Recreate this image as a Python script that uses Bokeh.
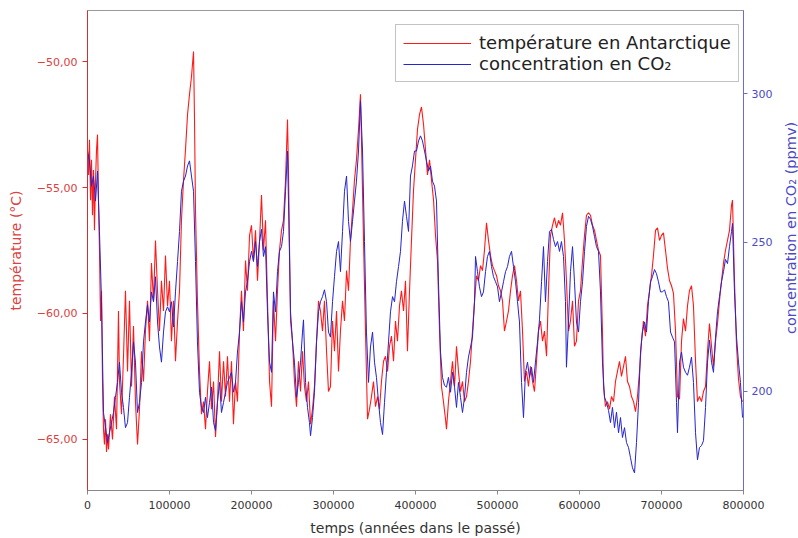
import math
from bokeh.plotting import figure
from bokeh.layouts import row
from bokeh.models import Range1d, LinearAxis, FixedTicker, Legend, LegendItem
from bokeh.core.properties import value
from bokeh.embed import file_html
from bokeh.resources import INLINE

# ---- data ----
# temperature in Antarctica (age in thousands of years, °C)
temp_age_ka = [
    0, 1.2, 2.4, 3.7, 4.9, 6.1, 7.3, 8.5, 9.8, 11, 12.2, 13.4, 14.6, 15.9, 17.1, 18.3, 19.5, 20.7, 22, 23.2, 24.4, 25.6,
    28, 30.5, 32.9, 35.4, 37.8, 39, 41.5, 43.9, 46.3, 48.8, 51.2, 53.7, 56.1, 58.5, 61, 63.4, 65.9, 68.3, 70.7, 73.2,
    75.6, 78, 80.5, 82.9, 85.4, 87.8, 90.2, 92.7, 95.1, 97.6, 100,
    102.4, 104.9, 107.3, 109.8, 112.2, 114.6, 117.1, 119.5, 122, 124.4, 126.8, 129.3, 130.5, 131.7, 134.1, 136.6, 139,
    141.5, 143.9, 146.3, 148.8, 151.2, 153.7, 156.1, 158.5, 161, 163.4, 165.9, 168.3, 170.7, 173.2, 175.6, 178, 180.5,
    182.9, 185.4, 187.8, 190.2, 192.7, 195.1, 197.6, 200,
    202.4, 204.9, 207.3, 209.8, 212.2, 214.6, 217.1, 219.5, 222, 224.4, 226.8, 229.3, 231.7, 234.1, 236.6, 239, 241.5,
    243.9, 245.1, 247.6, 250, 252.4, 254.9, 257.3, 259.8, 262.2, 264.6, 267.1, 269.5, 272, 274.4, 276.8, 279.3, 281.7,
    284.1, 286.6, 289, 291.5, 293.9, 296.3, 298.8, 301.2,
    303.7, 306.1, 308.5, 311, 313.4, 315.9, 318.3, 320.7, 323.2, 325.6, 328, 330.5, 332.9, 334.1, 336.6, 339, 341.5,
    343.9, 346.3, 348.8, 351.2, 353.7, 356.1, 358.5, 361, 363.4, 365.9, 368.3, 370.7, 373.2, 375.6, 378, 380.5, 382.9,
    385.4, 387.8, 390.2, 392.7, 395.1, 397.6, 400,
    402.4, 404.9, 407.3, 409.8, 412.2, 414.6, 417.1, 419.5, 422, 424.4, 426.8, 429.3, 431.7, 434.1, 436.6, 437.8, 440.2,
    442.7, 445.1, 447.6, 450, 452.4, 454.9, 457.3, 459.8, 462.2, 464.6, 467.1, 469.5, 472, 474.4, 476.8, 479.3, 481.7,
    484.1, 486.6, 489, 491.5, 493.9, 496.3, 498.8,
    501.2, 503.7, 506.1, 508.5, 511, 513.4, 515.9, 518.3, 520.7, 523.2, 525.6, 528, 530.5, 532.9, 535.4, 537.8, 540.2,
    542.7, 545.1, 547.6, 550, 552.4, 554.9, 557.3, 559.8, 562.2, 564.6, 567.1, 569.5, 572, 574.4, 576.8, 579.3, 581.7,
    584.1, 586.6, 589, 591.5, 593.9, 596.3, 598.8,
    601.2, 603.7, 606.1, 608.5, 611, 613.4, 615.9, 618.3, 620.7, 623.2, 625.6, 628, 629.3, 631.7, 634.1, 636.6, 639,
    641.5, 643.9, 646.3, 648.8, 651.2, 653.7, 656.1, 658.5, 661, 663.4, 665.9, 668.3, 670.7, 673.2, 675.6, 678, 680.5,
    682.9, 685.4, 687.8, 690.2, 692.7, 695.1, 697.6, 700,
    702.4, 704.9, 707.3, 709.8, 712.2, 714.6, 717.1, 719.5, 722, 724.4, 726.8, 729.3, 731.7, 734.1, 736.6, 739, 741.5,
    743.9, 746.3, 748.8, 751.2, 753.7, 756.1, 758.5, 761, 763.4, 765.9, 768.3, 770.7, 773.2, 775.6, 778, 780.5, 782.9,
    785.4, 786.6, 789, 791.5, 793.9, 796.3, 798.8,
]
temp_c = [
    -53.5, -54.5, -53.1, -55.5, -53.9, -56.1, -54.3, -56.7, -54.7, -53.5, -52.9, -55.5, -57.5, -60.3, -59.1, -62.7, -64.6, -65.2, -64.2, -65.5, -64.8, -65.4,
    -64.0, -65.0, -63.3, -64.6, -59.9, -62.7, -64.0, -61.7, -59.1, -62.3, -59.5, -62.9, -60.5, -63.5, -65.2, -63.8, -61.5, -62.7, -60.7, -59.5,
    -61.1, -58.0, -59.5, -57.1, -59.1, -60.7, -58.7, -59.9, -57.7, -59.7, -58.7,
    -61.1, -59.5, -61.9, -60.3, -59.1, -56.3, -54.7, -53.5, -52.1, -51.3, -50.6, -49.6, -52.3, -55.9, -59.5, -62.3, -64.0,
    -63.5, -64.6, -63.1, -61.9, -63.8, -62.7, -64.9, -63.5, -61.5, -63.5, -61.9, -63.3, -61.7, -63.5, -61.9, -64.4, -62.7,
    -63.5, -60.7, -59.1, -60.7, -57.9, -59.1, -56.9, -56.5,
    -57.9, -56.7, -58.7, -57.1, -55.3, -57.5, -56.3, -59.5, -62.7, -63.7, -59.5, -61.1, -59.1, -57.5, -56.7, -56.3, -54.7,
    -52.3, -54.3, -60.3, -61.1, -62.7, -63.7, -61.9, -63.1, -61.5, -62.9, -63.5, -62.7, -64.4, -63.8, -62.9, -61.1, -59.5,
    -59.9, -60.7, -59.5, -61.5, -63.1, -62.9, -60.3, -61.5,
    -59.9, -62.3, -60.7, -59.5, -60.3, -58.3, -59.1, -57.1, -55.9, -54.7, -53.9, -52.7, -51.3, -53.1, -57.1, -60.7, -64.2,
    -63.8, -63.3, -62.7, -63.7, -63.3, -63.8, -62.7, -61.9, -61.7, -62.3, -61.3, -60.9, -61.9, -60.3, -61.1, -59.7, -59.1,
    -59.9, -58.7, -61.5, -59.1, -57.1, -55.1, -53.9,
    -52.7, -52.1, -51.8, -52.5, -53.5, -54.5, -53.9, -54.7, -55.5, -56.9, -57.9, -60.7, -62.9, -63.5, -64.2, -64.6, -63.5,
    -62.7, -61.9, -62.9, -61.3, -62.3, -63.1, -62.7, -63.5, -63.3, -62.7, -61.9, -60.7, -59.5, -58.5, -58.7, -58.1, -58.3,
    -57.5, -56.4, -57.1, -57.7, -58.1, -58.3, -58.5,
    -58.9, -59.1, -59.5, -60.7, -60.3, -59.9, -59.1, -58.5, -58.1, -58.7, -59.5, -59.1, -60.7, -62.7, -62.3, -62.9, -62.1,
    -62.7, -63.1, -61.9, -60.7, -60.3, -61.1, -60.7, -61.7, -59.1, -56.9, -56.5, -56.2, -56.6, -56.3, -56.5, -56.0, -57.1,
    -58.7, -60.7, -60.3, -59.5, -61.3, -61.1, -59.5,
    -59.1, -57.9, -56.9, -56.1, -56.0, -56.1, -56.5, -56.7, -57.1, -57.5, -57.7, -60.7, -62.9, -63.7, -63.5, -63.8, -63.3,
    -63.5, -62.7, -62.3, -61.9, -62.5, -62.1, -61.7, -62.7, -62.9, -63.3, -63.5, -63.9, -63.3, -62.3, -61.1, -60.3, -60.9,
    -59.7, -59.1, -58.5, -57.7, -56.7, -56.6, -57.1, -56.9,
    -56.8, -57.5, -58.2, -58.7, -58.9, -59.2, -60.7, -63.3, -63.4, -61.1, -60.2, -60.7, -59.7, -59.1, -58.9, -59.7, -61.9,
    -63.5, -63.3, -63.5, -63.1, -62.9, -61.5, -60.4, -61.3, -62.1, -61.1, -60.4, -59.5, -58.7, -58.0, -57.5, -57.1, -56.7,
    -55.7, -55.5, -58.7, -61.3, -62.6, -63.3, -63.5,
]

# CO2 concentration (age in thousands of years, ppmv)
co2_age_ka = [
    0, 2.4, 4.9, 7.3, 9.8, 12.2, 14.6, 17.1, 19.5, 22, 24.4, 26.8, 29.3, 31.7, 34.1, 36.6, 39, 41.5, 43.9, 46.3, 48.8,
    51.2, 53.7, 56.1, 58.5, 61, 63.4, 65.9, 68.3, 70.7, 73.2, 75.6, 78, 80.5, 82.9, 85.4, 87.8, 90.2, 92.7, 95.1, 97.6, 100,
    102.4, 104.9, 107.3, 109.8, 112.2, 114.6, 117.1, 119.5, 122, 124.4, 126.8, 129.3, 131.7, 134.1, 136.6, 139, 141.5,
    143.9, 146.3, 148.8, 151.2, 153.7, 156.1, 158.5, 161, 163.4, 165.9, 168.3, 170.7, 173.2, 175.6, 178, 180.5, 182.9,
    185.4, 187.8, 190.2, 192.7, 195.1, 197.6, 200,
    202.4, 204.9, 207.3, 209.8, 212.2, 214.6, 217.1, 219.5, 222, 224.4, 226.8, 229.3, 231.7, 234.1, 236.6, 239, 241.5,
    243.9, 245.1, 247.6, 250, 252.4, 254.9, 257.3, 259.8, 262.2, 263.4, 265.9, 268.3, 270.7, 272, 274.4, 276.8, 279.3,
    281.7, 284.1, 286.6, 289, 291.5, 293.9, 296.3, 298.8, 301.2,
    303.7, 306.1, 308.5, 311, 313.4, 315.9, 318.3, 320.7, 323.2, 325.6, 328, 330.5, 332.9, 335.4, 337.8, 340.2, 342.7,
    345.1, 347.6, 350, 352.4, 354.9, 357.3, 359.8, 362.2, 364.6, 367.1, 369.5, 372, 374.4, 376.8, 379.3, 381.7, 384.1,
    386.6, 389, 391.5, 393.9, 396.3, 398.8,
    401.2, 403.7, 406.1, 408.5, 411, 413.4, 415.9, 418.3, 420.7, 423.2, 425.6, 428, 430.5, 432.9, 435.4, 437.8, 440.2,
    442.7, 445.1, 447.6, 450, 452.4, 454.9, 457.3, 459.8, 462.2, 464.6, 467.1, 469.5, 472, 473.2, 475.6, 478, 480.5,
    482.9, 485.4, 487.8, 490.2, 492.7, 495.1, 497.6,
    500, 502.4, 504.9, 507.3, 509.8, 512.2, 514.6, 517.1, 519.5, 522, 524.4, 526.8, 529.3, 531.7, 534.1, 536.6, 539,
    541.5, 543.9, 546.3, 548.8, 551.2, 553.7, 556.1, 558.5, 561, 563.4, 565.9, 568.3, 570.7, 573.2, 575.6, 578, 580.5,
    582.9, 584.1, 586.6, 589, 591.5, 593.9, 596.3, 598.8,
    601.2, 603.7, 606.1, 608.5, 611, 613.4, 615.9, 618.3, 620.7, 623.2, 625.6, 628, 630.5, 632.9, 635.4, 637.8, 640.2,
    642.7, 645.1, 647.6, 650, 652.4, 654.9, 657.3, 659.8, 662.2, 664.6, 667.1, 669.5, 672, 674.4, 676.8, 679.3, 681.7,
    684.1, 686.6, 689, 691.5, 693.9, 696.3, 698.8,
    701.2, 703.7, 706.1, 708.5, 711, 713.4, 715.9, 718.3, 719.5, 722, 724.4, 726.8, 729.3, 731.7, 734.1, 736.6, 739,
    741.5, 743.9, 746.3, 748.8, 751.2, 753.7, 756.1, 758.5, 761, 763.4, 765.9, 768.3, 770.7, 773.2, 775.6, 778, 780.5,
    782.9, 785.4, 786.6, 789, 791.5, 793.9, 796.3, 798.8,
]
co2_ppmv = [
    280.7, 277.4, 268.9, 272.3, 263.9, 274.0, 253.7, 230.1, 192.9, 187.8, 182.8, 186.1, 189.5, 192.9, 198.0, 203.0, 209.8, 199.7, 194.6, 187.8, 189.5,
    198.0, 206.4, 216.6, 209.8, 192.9, 196.3, 203.0, 216.6, 223.3, 229.1, 223.3, 233.4, 230.1, 238.5, 223.3, 214.9, 209.8, 219.9, 226.7, 228.4, 226.7,
    230.1, 221.6, 233.4, 243.6, 253.7, 267.2, 270.6, 272.3, 275.7, 277.4, 272.3, 267.2, 243.6, 216.6, 199.7, 194.6, 192.9,
    198.0, 191.2, 196.3, 201.4, 189.5, 186.8, 196.3, 203.0, 192.9, 196.3, 199.7, 203.0, 204.7, 206.4, 199.7, 203.0, 213.2,
    219.9, 230.1, 223.3, 233.4, 236.8, 243.6, 247.0,
    243.6, 250.3, 241.9, 250.3, 254.4, 245.3, 248.6, 226.7, 209.8, 206.4, 233.4, 226.7, 240.2, 247.0, 248.6, 253.7, 267.2,
    280.7, 263.9, 226.7, 216.6, 209.8, 198.0, 203.0, 209.8, 219.9, 224.0, 203.0, 194.6, 189.5, 185.1, 191.2, 199.7, 216.6,
    226.7, 230.1, 231.8, 234.1, 230.1, 219.9, 218.2, 230.1, 238.5,
    247.0, 250.3, 240.2, 253.7, 267.2, 272.3, 257.1, 250.3, 257.1, 263.9, 270.6, 280.7, 297.6, 280.7, 250.3, 219.9, 203.0,
    214.9, 219.9, 209.8, 204.7, 196.3, 189.5, 185.5, 196.3, 206.4, 216.6, 226.7, 231.8, 230.1, 236.8, 241.9, 247.0, 257.1,
    263.9, 258.8, 253.7, 272.3, 275.7, 280.7,
    280.7, 284.1, 285.8, 284.1, 280.7, 277.4, 274.0, 275.7, 270.6, 268.9, 263.9, 236.8, 213.2, 204.7, 202.0, 201.4, 204.7,
    199.7, 206.4, 201.4, 194.6, 203.0, 198.0, 192.9, 198.0, 206.4, 211.5, 214.9, 218.2, 230.1, 245.3, 240.2, 235.1, 231.8,
    233.4, 240.2, 245.3, 247.0, 241.9, 238.5, 236.8,
    235.1, 230.1, 233.4, 236.8, 240.2, 241.9, 245.3, 247.0, 241.9, 236.8, 230.1, 223.3, 203.0, 191.2, 206.4, 209.8, 204.7,
    208.1, 203.0, 209.8, 216.6, 224.0, 236.8, 248.6, 230.1, 243.6, 253.7, 254.4, 251.0, 248.6, 250.3, 247.0, 250.3, 245.3,
    230.1, 208.1, 223.3, 240.2, 248.6, 236.8, 223.3, 219.9,
    230.1, 236.8, 247.0, 255.4, 258.8, 257.8, 255.4, 252.0, 248.6, 247.0, 233.4, 209.8, 198.0, 196.3, 193.6, 189.5, 194.6,
    187.8, 193.0, 186.1, 191.2, 184.5, 187.8, 182.8, 181.1, 177.7, 174.3, 172.6, 182.8, 196.3, 213.2, 219.9, 223.3, 219.9,
    230.1, 236.8, 238.5, 240.9, 239.5, 236.8, 233.4,
    233.4, 234.1, 231.8, 230.1, 219.9, 218.2, 216.6, 196.3, 186.1, 209.8, 213.2, 208.1, 206.4, 205.4, 208.1, 211.5, 203.0,
    186.1, 177.0, 181.1, 181.8, 183.4, 194.6, 209.8, 217.2, 209.8, 206.4, 218.2, 226.7, 231.8, 236.8, 240.2, 244.3, 242.9,
    248.6, 253.7, 256.4, 233.4, 218.2, 209.8, 203.0, 191.2,
]

x_ticks = [0, 100000, 200000, 300000, 400000, 500000, 600000, 700000, 800000]
x_tick_labels = ["0", "100000", "200000", "300000", "400000", "500000", "600000", "700000", "800000"]
temp_ticks = [-65, -60, -55, -50]
temp_tick_labels = ["\u221265,00", "\u221260,00", "\u221255,00", "\u221250,00"]
co2_ticks = [200, 250, 300]
co2_tick_labels = ["200", "250", "300"]
co2_axis_title = "concentration en CO\u2082 (ppmv)"

# ---- figure ----
n_t = min(len(temp_age_ka), len(temp_c))
n_c = min(len(co2_age_ka), len(co2_ppmv))
t_years = [a * 1000 for a in temp_age_ka[:n_t]]
c_years = [a * 1000 for a in co2_age_ka[:n_c]]

FONT = "DejaVu Sans"
RED = "#ff1a1a"
BLUE = "#2424d0"
RED_TXT = "#dc4040"
BLUE_TXT = "#4a4ac4"

p = figure(width=780, height=538, output_backend="svg", toolbar_location=None,
           x_range=Range1d(0, 800000), y_range=Range1d(-67.03, -47.97),
           min_border_left=87, min_border_right=37, min_border_top=10, min_border_bottom=48)
p.extra_y_ranges = {"co2": Range1d(166.7, 327.9)}
p.xgrid.visible = False
p.ygrid.visible = False
p.outline_line_color = "#999999"
p.background_fill_color = "white"
p.border_fill_color = "white"

r_t = p.line(t_years, temp_c[:n_t], line_color=RED, line_width=1.1)
r_c = p.line(c_years, co2_ppmv[:n_c], line_color=BLUE, line_width=1.0, y_range_name="co2")

# x axis
xa = p.xaxis[0]
xa.ticker = FixedTicker(ticks=x_ticks)
xa.major_label_overrides = {t: l for t, l in zip(x_ticks, x_tick_labels)}
xa.axis_line_color = "#888888"
xa.major_tick_line_color = "#888888"
xa.major_tick_out = 4
xa.major_tick_in = 0
xa.minor_tick_out = 0
xa.minor_tick_in = 0
xa.major_label_text_font = FONT
xa.major_label_text_font_size = "11px"
xa.major_label_text_color = "#333333"
xa.major_label_standoff = 6
xa.axis_label = "temps (années dans le passé)"
xa.axis_label_text_font = FONT
xa.axis_label_text_font_size = "14px"
xa.axis_label_text_font_style = "normal"
xa.axis_label_text_color = "#333333"
xa.axis_label_standoff = 8

# left axis (temperature)
ya = p.yaxis[0]
ya.ticker = FixedTicker(ticks=temp_ticks)
ya.major_label_overrides = {t: l for t, l in zip(temp_ticks, temp_tick_labels)}
ya.axis_line_color = "#d03030"
ya.major_tick_line_color = "#d03030"
ya.major_tick_out = 5
ya.major_tick_in = 0
ya.minor_tick_out = 0
ya.minor_tick_in = 0
ya.major_label_text_font = FONT
ya.major_label_text_font_size = "11px"
ya.major_label_text_color = RED_TXT
ya.major_label_standoff = 5
ya.axis_label = "température (°C)"
ya.axis_label_text_font = FONT
ya.axis_label_text_font_size = "14px"
ya.axis_label_text_font_style = "normal"
ya.axis_label_text_color = RED_TXT
ya.axis_label_standoff = 10

# right axis (CO2)
ra = LinearAxis(y_range_name="co2", ticker=FixedTicker(ticks=co2_ticks))
ra.major_label_overrides = {t: l for t, l in zip(co2_ticks, co2_tick_labels)}
ra.axis_line_color = "#6a6ad8"
ra.major_tick_line_color = "#6a6ad8"
ra.major_tick_out = 4
ra.major_tick_in = 0
ra.minor_tick_out = 0
ra.minor_tick_in = 0
ra.major_label_text_font = FONT
ra.major_label_text_font_size = "11px"
ra.major_label_text_color = BLUE_TXT
ra.major_label_standoff = 4
p.add_layout(ra, "right")

legend = Legend(items=[LegendItem(label="température en Antarctique", renderers=[r_t]),
                       LegendItem(label="concentration en CO\u2082", renderers=[r_c])],
                location=(308, 408), orientation="vertical",
                label_text_font=FONT, label_text_font_size="18px", label_text_color="#222222",
                glyph_width=68, glyph_height=20, label_height=20, label_standoff=8,
                spacing=0, padding=7, margin=0,
                border_line_color="#888888", border_line_width=1,
                background_fill_color="white", background_fill_alpha=1.0)
p.add_layout(legend)

# narrow strip on the right carrying the CO2 axis title (reads bottom-to-top)
s = figure(width=18, height=538, output_backend="svg", toolbar_location=None,
           x_range=Range1d(0, 1), y_range=Range1d(0, 1),
           min_border_left=0, min_border_right=0, min_border_top=0, min_border_bottom=0)
s.axis.visible = False
s.xgrid.visible = False
s.ygrid.visible = False
s.outline_line_color = None
s.background_fill_color = "white"
s.border_fill_color = "white"
s.text(x=[0.6], y=[0.547], text=[co2_axis_title], angle=math.pi / 2,
       text_align="center", text_baseline="middle",
       text_font=value(FONT), text_font_size="14.5px", text_color=BLUE_TXT)

layout = row(p, s, spacing=0)
open("out.html", "w").write(file_html(layout, INLINE))
